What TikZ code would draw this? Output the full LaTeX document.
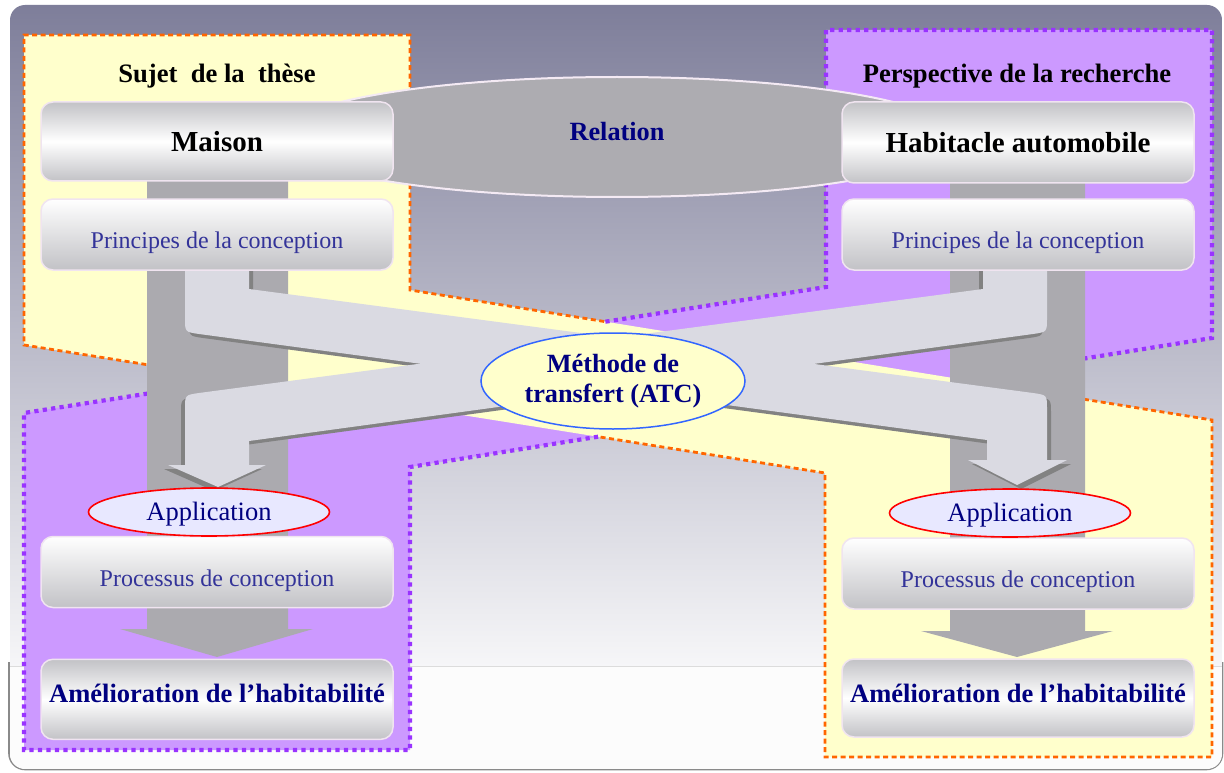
\documentclass[tikz,border=0pt]{standalone}
\usepackage{fontspec}
\setmainfont{Liberation Serif}
\usetikzlibrary{shapes.geometric}
\definecolor{regyellow}{HTML}{FFFFCC}
\definecolor{regpurple}{HTML}{CC99FF}
\definecolor{orangeline}{HTML}{FF6600}
\definecolor{purpleline}{HTML}{9933FF}
\definecolor{colgray}{HTML}{ABAAAF}
\definecolor{bandfill}{HTML}{DADAE2}
\definecolor{bandshadow}{HTML}{828282}
\definecolor{navytext}{HTML}{000080}
\definecolor{bluetext}{HTML}{333399}
\definecolor{boxedge}{HTML}{F0E4F0}
\definecolor{boxgray}{HTML}{C2C2C6}
\definecolor{relfill}{HTML}{ADACB1}
\definecolor{reledge}{HTML}{F4EAF4}
\definecolor{bgtop}{HTML}{7E7E9A}
\definecolor{bgbottom}{HTML}{F6F6F8}
\definecolor{bgwhite}{HTML}{FCFCFC}
\definecolor{bgline}{HTML}{DCDCDC}
\definecolor{bgedge}{HTML}{8A8A8A}
\definecolor{atcblue}{HTML}{3366FF}
\definecolor{applfill}{HTML}{E8E8FF}
\newcommand\bandApath{(185,250) -- (249,250) -- (249,289) -- (1033,393) .. controls (1047,395) .. (1047,409) -- (1047,460) -- (1067,460) -- (1017,485) -- (968,460) -- (987,460) -- (987,440) -- (199,334) .. controls (185,332) .. (185,318) -- cycle}
\newcommand\bandBpath{(983,250) -- (1047,250) -- (1047,318) .. controls (1047,332) .. (1033,334) -- (249,441) -- (249,465) -- (266,465) -- (218,487) -- (168,465) -- (185,465) -- (185,409) .. controls (185,395) .. (199,393) -- (983,289) -- cycle}
\begin{document}
\begin{tikzpicture}[x=1pt,y=-1pt,
  orangeborder/.style={draw=orangeline, line width=2.8pt, dash pattern=on 5pt off 3.5pt},
  purpleborder/.style={draw=purpleline, line width=4.2pt, dash pattern=on 4.2pt off 4.3pt},
  box/.style={draw=boxedge, line width=1.5pt, rounded corners=12pt, minimum width=352pt,
    inner sep=0pt, top color=white, bottom color=boxgray,
    font=\fontsize{24}{28}\selectfont, text=bluetext, text height=28pt, text depth=0pt},
  glossbox/.style={draw=boxedge, line width=1.5pt, rounded corners=12pt, minimum width=352pt,
    inner sep=0pt, top color=boxgray, bottom color=boxgray, middle color=white},
  headbox/.style={glossbox, font=\fontsize{29}{34}\selectfont\bfseries, text=black},
  resultbox/.style={glossbox, font=\fontsize{26.5}{30}\selectfont\bfseries, text=navytext},
  titletext/.style={font=\fontsize{26.6}{30}\selectfont\bfseries, text=black, inner sep=0pt,
    text height=18pt, text depth=6pt},
  relation/.style={ellipse, minimum width=680pt, minimum height=120pt, inner sep=0pt,
    fill=relfill, draw=reledge, line width=2pt, font=\fontsize{26.3}{30}\selectfont\bfseries,
    text=navytext, text height=18pt, text depth=10pt},
  methode/.style={ellipse, draw=atcblue, line width=1.5pt, fill=regyellow, minimum width=264pt,
    minimum height=96pt, inner sep=0pt, align=center, font=\fontsize{26.3}{30}\selectfont\bfseries,
    text=navytext},
  appl/.style={ellipse, draw=red, line width=1.6pt, fill=applfill, minimum width=241pt,
    minimum height=48pt, inner sep=0pt, font=\fontsize{26.5}{30}\selectfont, text=navytext,
    text height=18pt, text depth=2pt},
  column/.style={fill=colgray},
  band/.style={fill=bandfill},
  bandshade/.style={fill=bandshadow}
]
\useasboundingbox (0,0) rectangle (1224,773);
% background
\fill[white] (0,0) rectangle (1224,773);
\begin{scope}
  \clip (0,662) rectangle (1224,773);
  \draw[draw=bgedge, line width=1.6pt, rounded corners=16pt] (9,5) rectangle (1222.5,769.5);
\end{scope}
\begin{scope}
  \clip[rounded corners=15pt] (10,5) rectangle (1222,769);
  \fill[bgwhite] (10,5) rectangle (1222,769);
  \shade[top color=bgtop, bottom color=bgbottom] (10,5) rectangle (1222,666);
  \draw[bgline, line width=1pt] (10,666) -- (1222,666);
\end{scope}
% regions
\fill[regpurple] (826,30) -- (1212,30) -- (1212,338) -- (410,467) -- (410,750) -- (24,750) -- (24,413) -- (826,287) -- cycle;
\fill[regyellow] (24,35) -- (410,35) -- (410,290) -- (1212,420) -- (1212,757) -- (825,757) -- (825,473) -- (24,345) -- cycle;
\draw[orangeborder] (238.6,379.3) -- (24,345) -- (24,35) -- (410,35) -- (410,290) -- (605.4,321.7);
\draw[orangeborder] (958.1,378.8) -- (1212,420) -- (1212,757) -- (825,757) -- (825,473) -- (598.1,436.7);
\draw[purpleborder] (605.4,321.7) -- (826,287) -- (826,30) -- (1212,30) -- (1212,338) -- (958.1,378.8);
\draw[purpleborder] (598.1,436.7) -- (410,467) -- (410,750) -- (24,750) -- (24,413) -- (238.6,379.3);
% relation ellipse
\node[relation] (relation) at (617,137) {Relation};
% vertical columns
\fill[column] (147,140) -- (288,140) -- (288,629) -- (313,629) -- (217,657) -- (120,629) -- (147,629) -- cycle;
\fill[column] (950,140) -- (1085,140) -- (1085,631) -- (1113,631) -- (1017,657) -- (921,631) -- (950,631) -- cycle;
% crossing bands
\fill[bandshade, shift={(4,4)}] \bandApath;
\fill[bandshade, shift={(-4,4)}] \bandBpath;
\fill[band] \bandApath;
\fill[band] \bandBpath;
% boxes
\node[headbox, minimum height=79pt] (maison) at (217,141.5) {Maison};
\node[box, minimum height=71pt] (principesL) at (217,234.5) {Principes de la conception};
\node[headbox, minimum height=81pt] (habitacle) at (1018,142.5) {Habitacle automobile};
\node[box, minimum height=71pt] (principesR) at (1018,234.5) {Principes de la conception};
\node[box, minimum height=71pt] (processusL) at (217,572) {Processus de conception};
\node[box, minimum height=71pt] (processusR) at (1018,573.5) {Processus de conception};
\node[resultbox, minimum height=80pt, text height=18pt, text depth=11pt] (amelL) at (217,699.3) {Amélioration de l’habitabilité};
\node[resultbox, minimum height=78pt, text height=18pt, text depth=9pt] (amelR) at (1018,698) {Amélioration de l’habitabilité};
% ellipses
\node[methode] (atc) at (613,381) {Méthode de\\transfert (ATC)};
\node[appl] (applL) at (209,512) {Application};
\node[appl] (applR) at (1010,513) {Application};
% titles
\node[titletext] (sujet) at (217,77) {Sujet\ \ de la\ \ thèse};
\node[titletext] (perspective) at (1017,77) {Perspective de la recherche};
\end{tikzpicture}
\end{document}
